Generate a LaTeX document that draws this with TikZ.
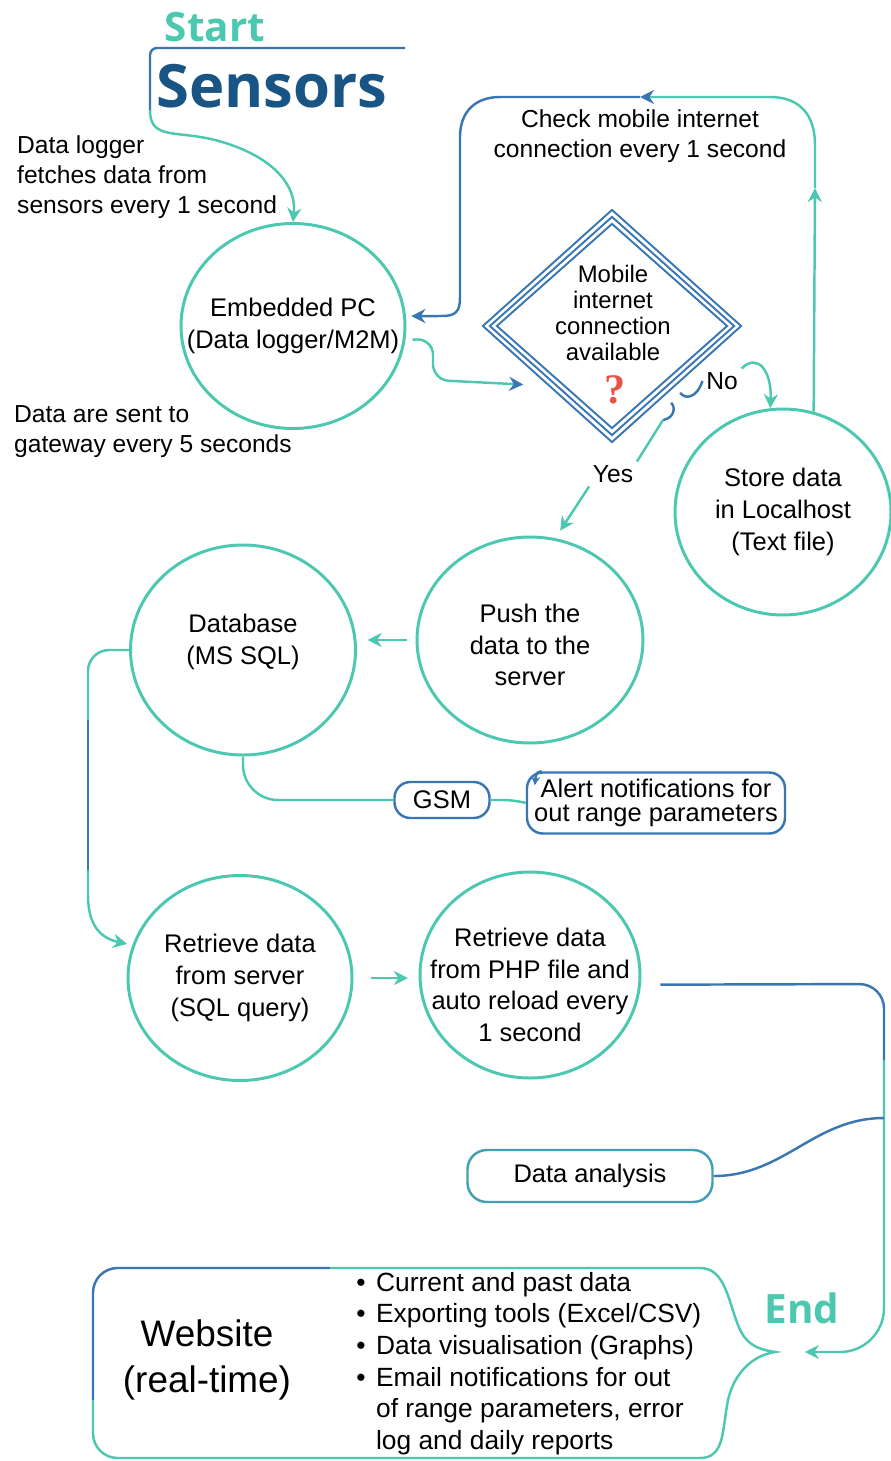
\documentclass[tikz,border=0pt]{standalone}
\usepackage{fontspec}
\setmainfont{Liberation Sans}
\newfontfamily\headfont{Open Sans}
\newfontfamily\qfont{Liberation Serif}
\usetikzlibrary{shapes.geometric,arrows.meta}
\definecolor{cteal}{RGB}{76,200,176}
\definecolor{cblue}{RGB}{58,118,178}
\definecolor{cdark}{RGB}{24,84,132}
\definecolor{cred}{RGB}{232,84,72}
\newdimen\pix \pix=0.02cm
\begin{document}
\begin{tikzpicture}[x=1\pix,y=-1\pix,
  >={Stealth[length=8pt,width=8pt]},
  blob/.style={ellipse,draw=cteal,line width=1.7pt,inner sep=0pt,minimum width=224\pix,minimum height=205\pix},
  intext/.style={align=center,font=\fontsize{14.5}{18}\selectfont},
  note/.style={align=left,anchor=west,font=\fontsize{14}{17}\selectfont},
  lbl/.style={inner sep=2pt,font=\fontsize{14}{17}\selectfont},
  pill/.style={draw=cblue,line width=1.4pt,rounded corners=9pt,inner sep=0pt,align=center,font=\fontsize{14.5}{18}\selectfont},
  tline/.style={draw=cteal,line width=1.4pt},
  bline/.style={draw=cblue,line width=1.4pt},
  head/.style={font=\headfont\bfseries\fontsize{23}{23}\selectfont,text=cteal}]
\useasboundingbox (0,0) rectangle (891,1461);

% titles
\node[head] (start) at (215,27) {Start};
\node[font=\headfont\bfseries\fontsize{34}{34}\selectfont,text=cdark] (sensors) at (272,86) {Sensors};
\node[head] (endt) at (802,1308) {End};

% circles
\node[blob] (pc) at (293,326) {};
\node[intext] at (pc) {Embedded PC\\(Data logger/M2M)};
\node[blob,minimum width=216\pix,minimum height=206\pix] (store) at (783,512) {};
\node[intext] at (store) {Store data\\in Localhost\\(Text file)};
\node[blob,minimum width=226\pix,minimum height=206\pix] (push) at (530,640) {};
\node[intext] at (530,645) {Push the\\data to the\\server};
\node[blob,minimum width=225\pix,minimum height=210\pix] (db) at (243,650) {};
\node[intext] at (243,642) {Database\\(MS SQL)};
\node[blob] (ret) at (240,978) {};
\node[intext] at (ret) {Retrieve data\\from server\\(SQL query)};
\node[blob,minimum width=220\pix,minimum height=206\pix] (php) at (530,975) {};
\node[intext] at (530,985) {Retrieve data\\from PHP file and\\auto reload every\\1 second};

% decision
\node[diamond,draw=cblue,line width=1.1pt,inner sep=0pt,minimum width=259\pix,minimum height=233\pix] (q) at (612,326) {};
\foreach \w/\h in {245/219,231/205}
  \node[diamond,draw=cblue,line width=1.1pt,inner sep=0pt,minimum width=\w\pix,minimum height=\h\pix] at (612,326) {};
\node[align=center,font=\fontsize{13.6}{14.7}\selectfont] (qt) at (613,313) {Mobile\\internet\\connection\\available};
\node[font=\qfont\bfseries\fontsize{24}{24}\selectfont,text=cred] (qm) at (615,390) {?};

% notes and labels
\node[note] (lognote) at (11,177) {Data logger\\fetches data from\\sensors every 1 second};
\node[note] (sendnote) at (8,432) {Data are sent to\\gateway every 5 seconds};
\node[align=center,font=\fontsize{14}{17}\selectfont] (chk) at (640,136) {Check mobile internet\\connection every 1 second};
\node[lbl] (no) at (722,381) {No};
\node[lbl] (yes) at (613,474) {Yes};

% boxes
\node[pill,minimum width=95\pix,minimum height=36\pix] (gsm) at (442,800) {GSM};
\node[pill,minimum width=258\pix,minimum height=61\pix,font=\fontsize{14.5}{14}\selectfont] (alert) at (656,803) {Alert notifications for\\out range parameters};
\node[pill,draw=cteal!50!cblue,minimum width=245\pix,minimum height=52\pix,rounded corners=11pt] (da) at (590,1176) {Data analysis};

% website box
\node[font=\fontsize{21}{26}\selectfont,align=center] (web) at (207,1360) {Website\\(real-time)};
\node[anchor=west,inner sep=0pt,font=\fontsize{15}{18}\selectfont] (feat) at (356,1364) {%
  \begin{tabular}{@{}l@{\hspace{6pt}}l@{}}
  \textbullet & Current and past data\\
  \textbullet & Exporting tools (Excel/CSV)\\
  \textbullet & Data visualisation (Graphs)\\
  \textbullet & Email notifications for out\\
              & of range parameters, error\\
              & log and daily reports
  \end{tabular}};
\coordinate (wtip) at (775,1352);
\draw[bline,rounded corners=14pt] (330,1268) -- (93,1268) -- (93,1400);
\draw[tline,rounded corners=14pt] (93,1400) -- (93,1458) -- (600,1458);
\draw[tline] (600,1458) -- (700,1458)
  .. controls (725,1458) and (722,1430) .. (728,1400)
  .. controls (735,1370) and (755,1355) .. (wtip)
  .. controls (755,1349) and (745,1343) .. (738,1325)
  .. controls (728,1300) and (725,1268) .. (700,1268) -- (330,1268);

% connectors
\coordinate (s0) at (405,48);
\coordinate (s1) at (150,48);
\coordinate (s2) at (150,110);
\draw[bline,rounded corners=4pt] (s0) -- (s1) -- (s2);
\draw[tline,->] (s2) .. controls (150,140) and (175,130) .. (215,140)
  .. controls (265,153) and (297,180) .. (pc.north);

\draw[tline,rounded corners=9pt,-{Stealth[length=8pt,width=8pt,color=cblue]},shorten <=4pt,shorten >=2pt]
  (pc.-7) -- (433,339) -- (433,380) -- ([xshift=-20\pix]q.south west);

\coordinate (up) at (815,188);
\coordinate (lp) at (640,97);
\draw[tline,->] (store.73) -- (up);
\draw[tline,-{Stealth[length=8pt,width=8pt,color=cblue]}] (up) -- (815,145)
  .. controls (815,115) and (800,97) .. (770,97) -- (lp);
\draw[bline,->,shorten >=3pt] (lp) -- (500,97) .. controls (475,97) and (460,112) .. (460,137)
  -- (460,298) .. controls (460,312) and (455,316) .. (442,316) -- (pc.5);

\draw[bline] ([shift={(3,8)}]q.south east) .. controls (685,400) and (697,398) .. (no.west);
\draw[tline,->] (no.north east) .. controls (758,352) and (772,372) .. (store.97);

\coordinate (yb) at (663,420);
\draw[bline] ([shift={(-6,18)}]q.south east) .. controls (676,408) and (674,418) .. (yb);
\draw[tline] (yb) -- (yes.north east);
\draw[tline,->,shorten >=5pt] (yes.south west) -- (push.76);

\draw[tline,->,shorten <=5pt,shorten >=6pt] (push.west) -- (push.west -| db.east);

\coordinate (d1) at (88,720);
\coordinate (d2) at (88,870);
\draw[tline,rounded corners=12pt] (db.west) -- (88,650) -- (d1);
\draw[bline] (d1) -- (d2);
\draw[tline,->,shorten >=3pt] (d2) -- (88,895) .. controls (88,925) and (100,938) .. (ret.163);

\draw[tline,rounded corners=20pt] (db.south) |- (gsm.west);
\draw[tline,rounded corners=6pt] (gsm.east) -- (514,800) -- (alert.west);
\draw[bline,->,>={Stealth[length=5pt,width=5pt]}] ([xshift=16\pix]alert.north west) .. controls (536,772) and (536,774) .. ([shift={(9,14)}]alert.north west);

\draw[tline,->,shorten <=10pt,shorten >=6pt] (ret.east) -- (ret.east -| php.west);

\coordinate (rj) at (884,1060);
\coordinate (j) at (884,1118);
\draw[bline,rounded corners=14pt,shorten <=11pt] (php.-5) -- (884,984) -- (rj);
\draw[tline,rounded corners=25pt,->,shorten >=17pt] (rj) -- (884,1352) -- (wtip);
\draw[bline] (da.east) to[out=0,in=180] (j);
\end{tikzpicture}
\end{document}
